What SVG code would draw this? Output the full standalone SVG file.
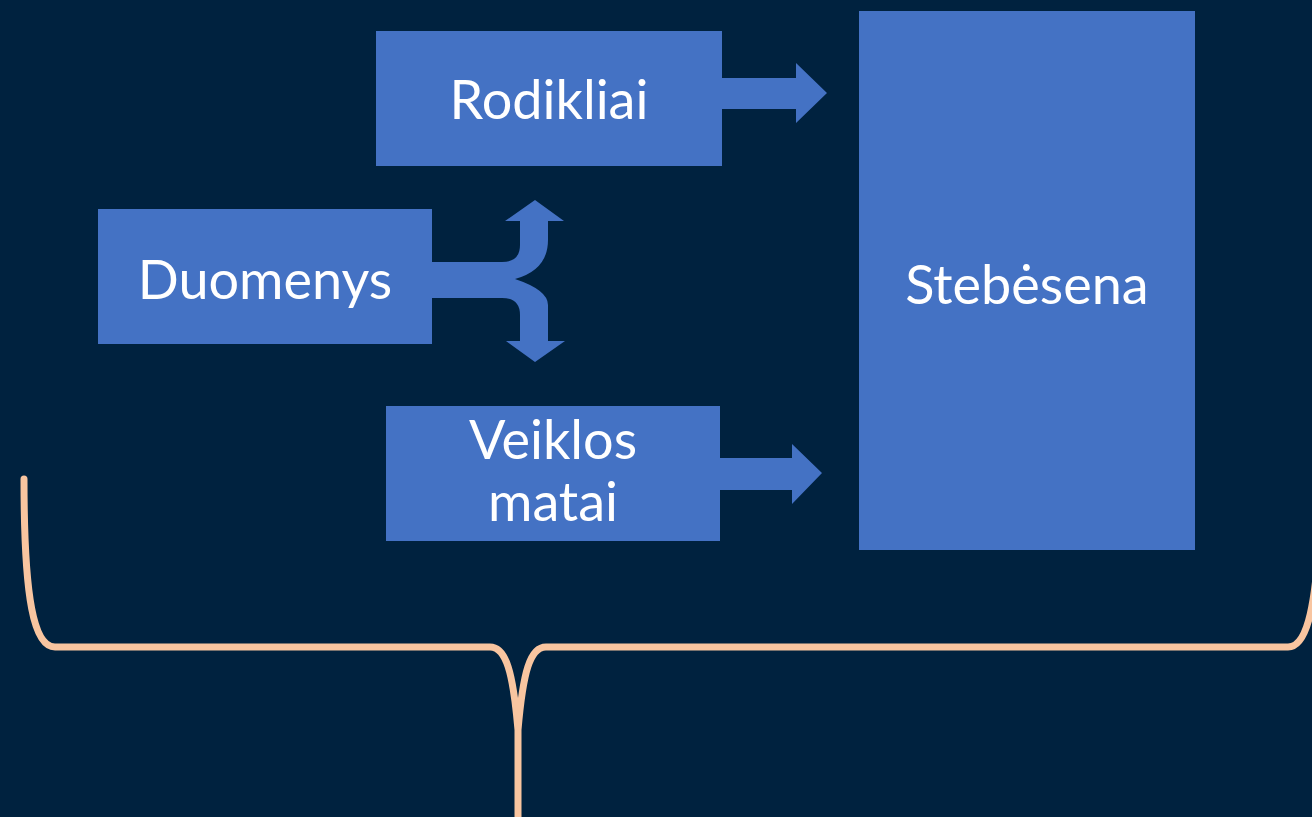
<svg xmlns="http://www.w3.org/2000/svg" width="1312" height="817" viewBox="0 0 1312 817">
<style>
.box{fill:#4472C4}
.lbl{fill:#FFFFFF;font-family:Lato,"Open Sans","Liberation Sans",sans-serif;font-size:54px;text-anchor:middle}
.arr{fill:#4472C4}
.brace{fill:none;stroke:#F8C5A0;stroke-width:7;stroke-linecap:round;stroke-linejoin:round}
</style>
<rect x="0" y="0" width="1312" height="817" fill="#00223F"/>
<g id="connectors">
<path class="arr" d="M722 78 L796 78 L796 63 L827 93 L796 123 L796 109 L722 109 Z"/>
<path class="arr" d="M720 458 L792 458 L792 444 L822 473 L792 504 L792 490 L720 490 Z"/>
<path class="arr" d="M432 262 L502 262 Q520 262 520 245 L520 221 L505 221 L535 200 L564 221 L548 221 L548 240 Q548 270 515 279 Q548 290 548 305 L548 341 L565 341 L535 362 L506 341 L520 341 L520 315 Q520 298 502 298 L432 298 Z"/>
</g>
<g id="brace">
<path class="brace" d="M24 479 C24 600 34 647 55 647 L490 647 C506 647 513 672 518 730 L518 817 M518 730 C523 672 530 647 546 647 L1288 647 C1306 647 1318 615 1322 479"/>
</g>
<g id="node-rodikliai">
<rect class="box" x="376" y="31" width="346" height="135"/>
<text class="lbl" x="549" y="119">Rodikliai</text>
</g>
<g id="node-duomenys">
<rect class="box" x="98" y="209" width="334" height="135"/>
<text class="lbl" x="265" y="299">Duomenys</text>
</g>
<g id="node-veiklos">
<rect class="box" x="386" y="406" width="334" height="135"/>
<text class="lbl" x="553" y="459">Veiklos</text>
<text class="lbl" x="553" y="521">matai</text>
</g>
<g id="node-stebesena">
<rect class="box" x="859" y="11" width="336" height="539"/>
<text class="lbl" x="1027" y="304">Stebėsena</text>
</g>
</svg>
